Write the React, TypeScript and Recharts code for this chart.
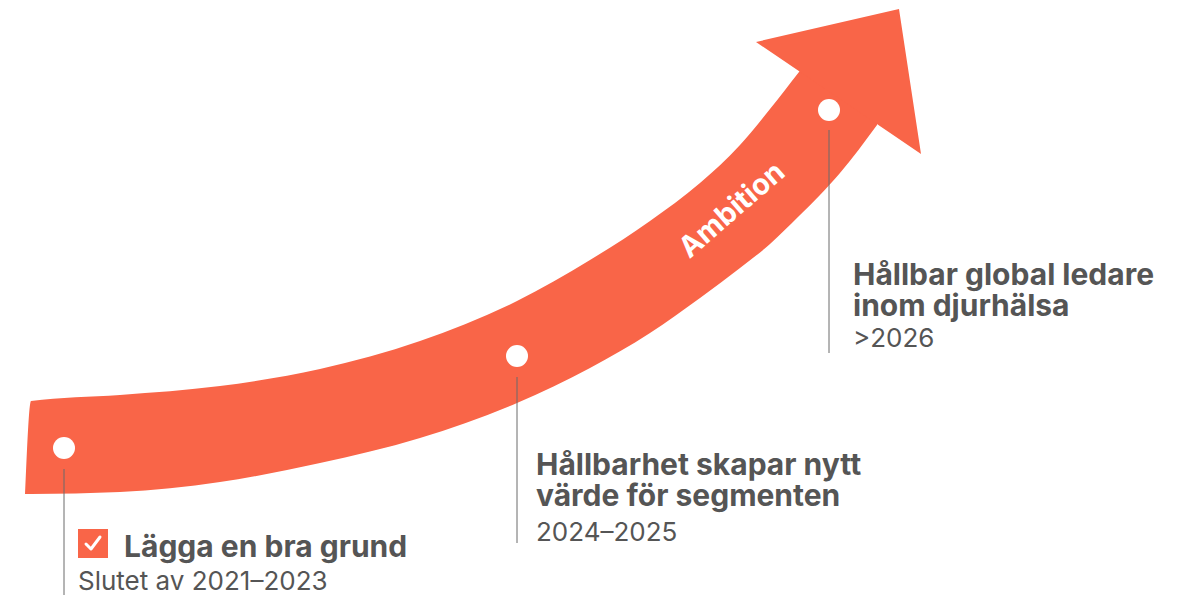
import { ComposedChart, Area, Scatter, XAxis, YAxis, ReferenceLine } from 'recharts'

// arrow body (x across, y down)
const bandX = [25, 31, 120, 220, 320, 420, 517, 590, 650, 700, 740, 770, 799, 820, 840, 877]
const bandTop = [494, 401, 395, 386, 369, 341, 301, 260, 221, 183, 145, 109, 72, 45, 35, 25]
const bandBottom = [494, 494, 492, 482, 463, 438, 403, 368, 333, 298, 268, 244, 216, 195, 173, 125]

// arrow head
const headX = [756, 899, 921]
const headTop = [42, 9, 154]
const headBottom = [42, 139, 154]

// milestones
const milestoneX = [64, 517, 829]
const milestoneY = [448, 356, 110]
const leaderTop = [469, 377, 130]
const leaderBottom = [595, 543, 353]
const titles = [
  ['Lägga en bra grund'],
  ['Hållbarhet skapar nytt', 'värde för segmenten'],
  ['Hållbar global ledare', 'inom djurhälsa'],
]
const periods = ['Slutet av 2021–2023', '2024–2025', '>2026']
const titleX = [124, 536, 853]
const titleY = [557, 475, 285]
const periodX = [78, 536, 853]
const periodY = [590, 541, 347]

const ambition = { x: 738, y: 217, text: 'Ambition' }
const checkbox = { x: 93, y: 543 }

const ORANGE = '#F96548'
const TEXT = '#555555'
const FONT = 'Inter, "Noto Sans", sans-serif'

const allX = Array.from(new Set([...bandX, ...headX])).sort((a, b) => a - b)
const arrowData = allX.map((x) => {
  const b = bandX.indexOf(x)
  const h = headX.indexOf(x)
  return {
    x,
    band: b >= 0 ? [bandTop[b], bandBottom[b]] : null,
    head: h >= 0 ? [headTop[h], headBottom[h]] : null,
  }
})

const dots = milestoneX.map((x, i) => ({ x, y: milestoneY[i] }))
const labels = milestoneX.map((_, i) => ({
  x: titleX[i],
  y: titleY[i],
  lines: titles[i],
  period: periods[i],
  px: periodX[i],
  py: periodY[i],
}))

export default function App() {
  return (
    <div style={{ position: 'fixed', left: 0, top: 0, background: '#fff' }}>
      <ComposedChart
        width={1192}
        height={595}
        data={arrowData}
        margin={{ top: 0, right: 0, bottom: 0, left: 0 }}
      >
        <XAxis type="number" dataKey="x" domain={[0, 1192]} hide />
        <YAxis type="number" domain={[0, 595]} reversed hide />
        <Area
          type="monotone"
          dataKey="band"
          stroke="none"
          fill={ORANGE}
          fillOpacity={1}
          connectNulls
          dot={false}
          activeDot={false}
          isAnimationActive={false}
        />
        <Area
          type="linear"
          dataKey="head"
          stroke="none"
          fill={ORANGE}
          fillOpacity={1}
          connectNulls
          dot={false}
          activeDot={false}
          isAnimationActive={false}
        />
        {milestoneX.map((x, i) => (
          <ReferenceLine
            key={i}
            segment={[
              { x, y: leaderTop[i] },
              { x, y: leaderBottom[i] },
            ]}
            stroke="#6b6b6b"
            strokeWidth={1}
          />
        ))}
        <Scatter
          data={dots}
          dataKey="y"
          isAnimationActive={false}
          shape={(p: any) => <circle cx={p.cx} cy={p.cy} r={11} fill="#fff" />}
        />
        <Scatter
          data={[ambition]}
          dataKey="y"
          isAnimationActive={false}
          shape={(p: any) => (
            <text
              x={p.cx}
              y={p.cy}
              transform={`rotate(-41 ${p.cx} ${p.cy})`}
              textAnchor="middle"
              fill="#fff"
              fontFamily={FONT}
              fontWeight={700}
              fontSize={29}
            >
              {p.payload.text}
            </text>
          )}
        />
        <Scatter
          data={[checkbox]}
          dataKey="y"
          isAnimationActive={false}
          shape={(p: any) => (
            <g>
              <rect x={p.cx - 15} y={p.cy - 14} width={30} height={29} fill={ORANGE} />
              <polyline
                points={`${p.cx - 7},${p.cy + 1} ${p.cx - 2},${p.cy + 6} ${p.cx + 7},${p.cy - 6}`}
                fill="none"
                stroke="#fff"
                strokeWidth={3}
                strokeLinecap="round"
                strokeLinejoin="round"
              />
            </g>
          )}
        />
        <Scatter
          data={labels}
          dataKey="y"
          isAnimationActive={false}
          shape={(p: any) => {
            const d = p.payload
            const dx = d.px - d.x
            const dy = d.py - d.y
            return (
              <g fontFamily={FONT}>
                <text x={p.cx} y={p.cy} fill={TEXT} fontWeight={700} fontSize={30}>
                  {d.lines.map((line: string, j: number) => (
                    <tspan key={j} x={p.cx} dy={j === 0 ? 0 : 31}>
                      {line}
                    </tspan>
                  ))}
                </text>
                <text x={p.cx + dx} y={p.cy + dy} fill={TEXT} fontWeight={400} fontSize={26}>
                  {d.period}
                </text>
              </g>
            )
          }}
        />
      </ComposedChart>
    </div>
  )
}
